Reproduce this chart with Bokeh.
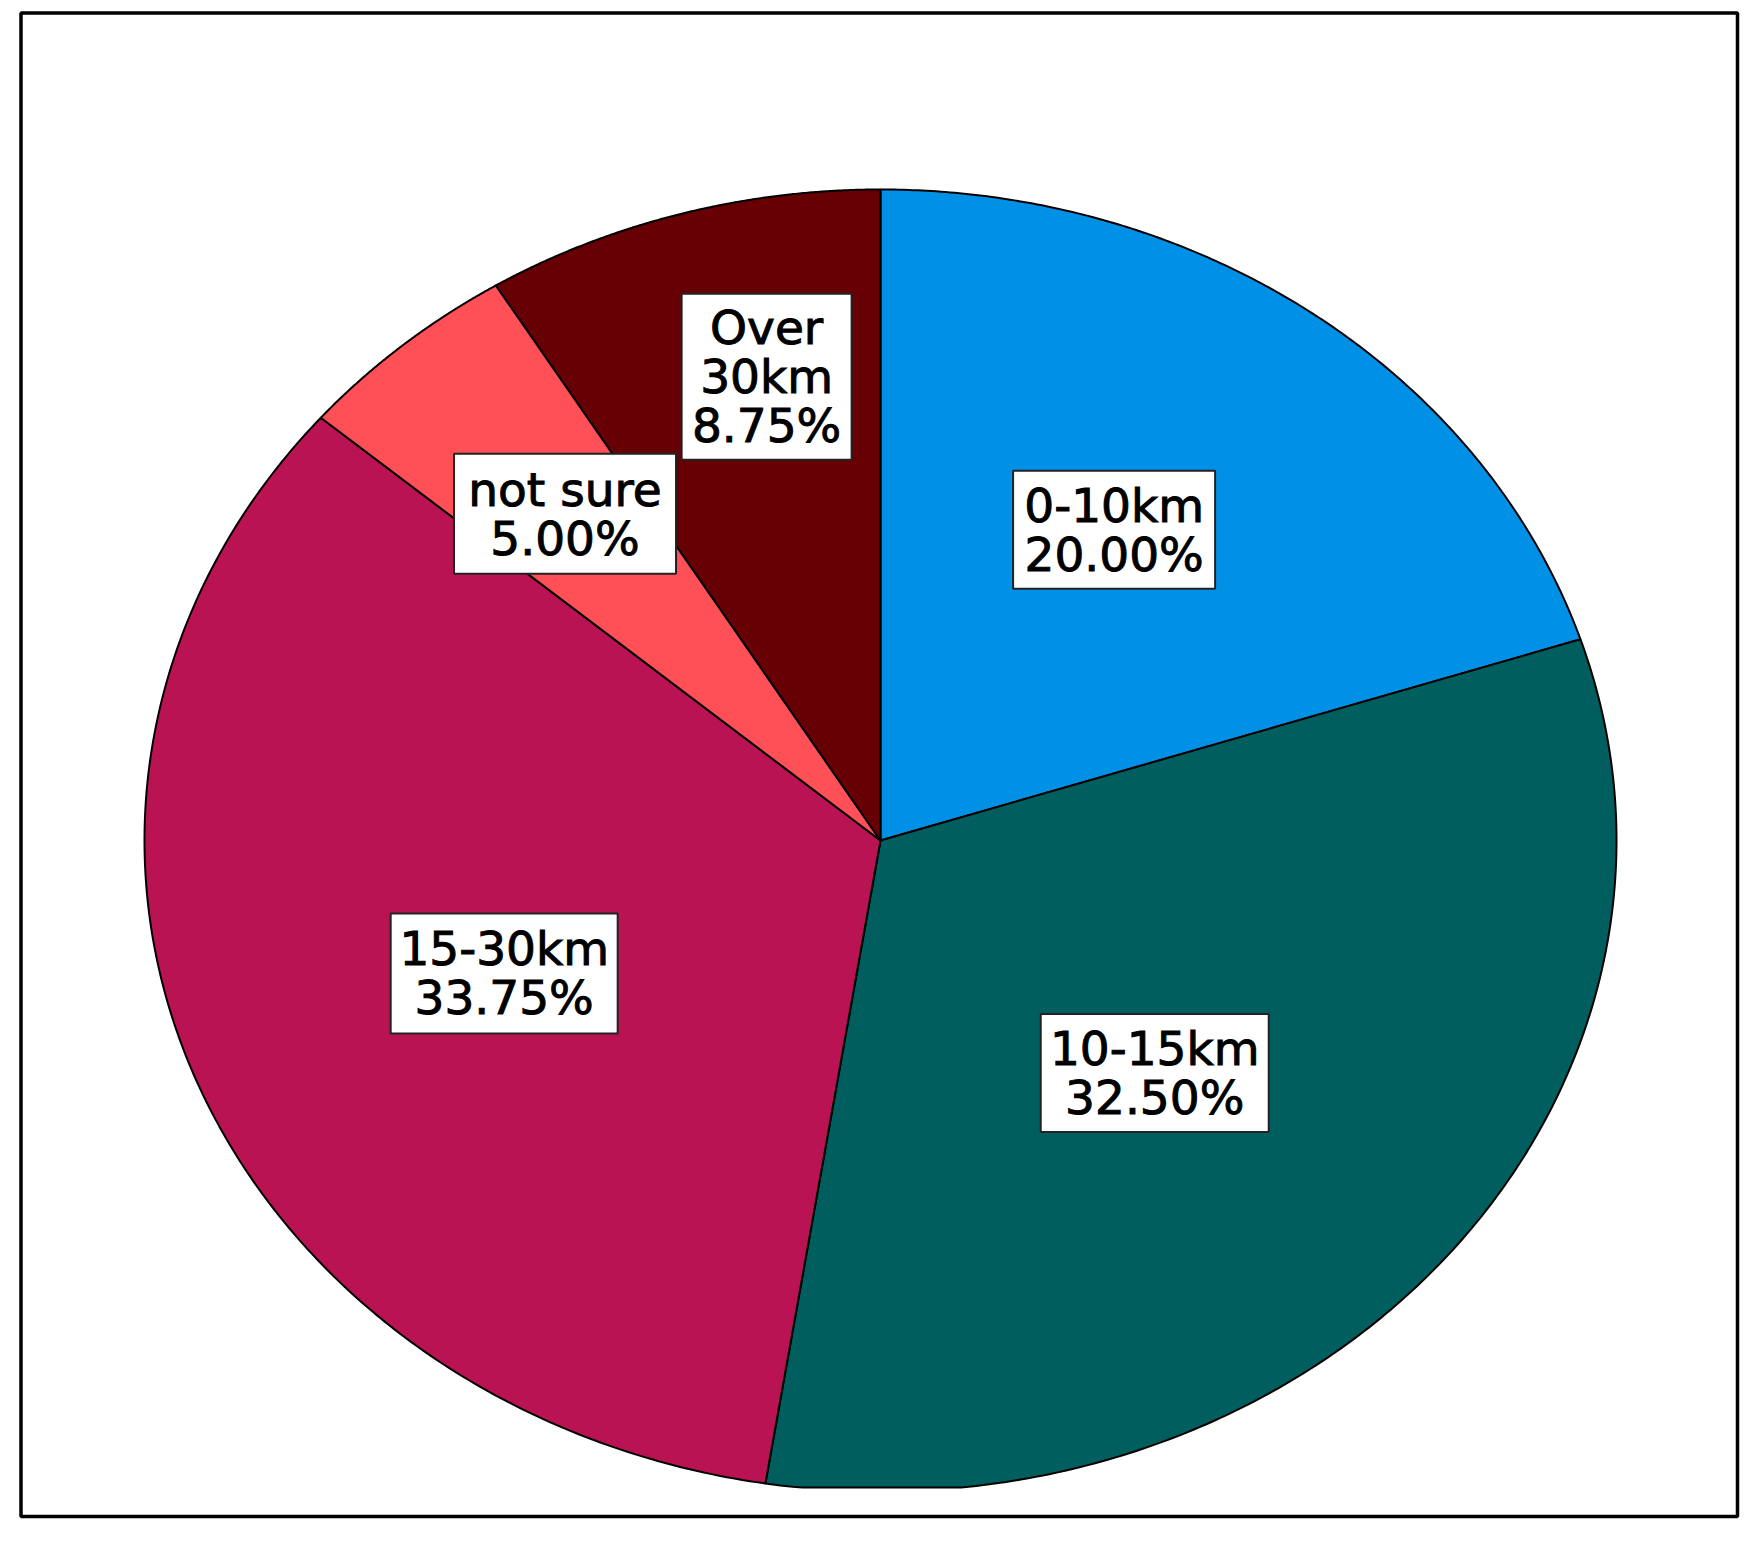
import numpy as np
from bokeh.plotting import figure
from bokeh.models import Range1d, ColumnDataSource
from bokeh.embed import file_html
from bokeh.resources import INLINE
from bokeh.core.properties import value

# ---- data ----
categories = ["0-10km", "10-15km", "15-30km", "not sure", "Over 30km"]
percentages = [20.00, 32.50, 33.75, 5.00, 8.75]
label_names = ["0-10km", "10-15km", "15-30km", "not sure", "Over\n30km"]
colors = ["#0091E6", "#005E5E", "#B91353", "#FF4F57", "#670005"]

# ---- layout ----
W, H = 1744, 1526
CX, CY, RX, RY = 880, 840, 736, 651
CLIP_Y = 1487
label_kx = [0.54, 0.49, 0.545, 0.66, 0.57]
label_ky = [0.59, 0.55, 0.59, 0.66, 0.74]
box_w = [202, 228, 227, 222, 170]
box_h = [118, 118, 120, 120, 166]

p = figure(width=W, height=H, x_range=Range1d(0, W), y_range=Range1d(H, 0),
           output_backend="svg", toolbar_location=None, min_border=0)
p.axis.visible = False
p.grid.visible = False
p.outline_line_color = None
p.background_fill_color = "white"
p.border_fill_color = "white"

# slices: clockwise from 12 o'clock
fr = np.array(percentages) / np.sum(percentages)
ends = np.cumsum(fr) * 2 * np.pi
starts = ends - fr * 2 * np.pi
xs, ys = [], []
lx, ly = [], []
for i, (a0, a1) in enumerate(zip(starts, ends)):
    t = np.linspace(a0, a1, 200)
    x = np.concatenate([[CX], CX + RX * np.sin(t)])
    y = np.concatenate([[CY], CY - RY * np.cos(t)])
    y = np.minimum(y, CLIP_Y)
    xs.append(list(x)); ys.append(list(y))
    m = (a0 + a1) / 2
    lx.append(CX + label_kx[i] * RX * np.sin(m))
    ly.append(CY - label_ky[i] * RY * np.cos(m))

p.patches(xs, ys, fill_color=colors, line_color="black", line_width=2)

texts = [f"{n}\n{v:.2f}%" for n, v in zip(label_names, percentages)]
src = ColumnDataSource(dict(x=lx, y=ly, w=box_w, h=box_h, text=texts))
p.rect(x="x", y="y", width="w", height="h", source=src, fill_color="white",
       line_color="#222222", line_width=2)
p.text(x="x", y="y", text="text", source=src, text_font=value("DejaVu Sans"),
       text_font_size="47px", text_align="center",
       text_baseline="middle", text_line_height=0.89, text_color="black",
       text_outline_color="black")

# outer frame
p.quad(left=20.5, right=1737, top=12.5, bottom=1516, fill_color=None,
       line_color="black", line_width=3.5)

open("out.html", "w").write(file_html(p, INLINE))
